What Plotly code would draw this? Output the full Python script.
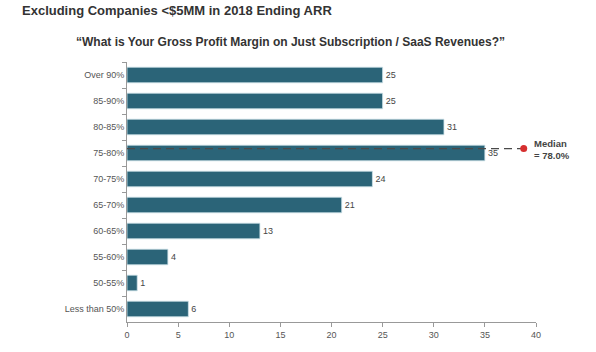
import plotly.graph_objects as go

categories = ["Over 90%", "85-90%", "80-85%", "75-80%", "70-75%", "65-70%",
              "60-65%", "55-60%", "50-55%", "Less than 50%"]
values = [25, 25, 31, 35, 24, 21, 13, 4, 1, 6]
median_label = "Median<br>= 78.0%"
median_pos = 2.83   # position on category axis (78% inside 75-80% band)
median_x_end = 38.8

FONT = "Liberation Sans, Arial"

fig = go.Figure()
fig.add_trace(go.Bar(
    y=categories, x=values, orientation="h", width=0.6,
    marker=dict(color="#2b6478", line=dict(color="#cfe3ea", width=0.8)),
    text=[str(v) for v in values], textposition="outside",
    textfont=dict(family=FONT, size=9, color="#444"),
    cliponaxis=False, hoverinfo="skip",
))

fig.add_trace(go.Scatter(
    x=[0, median_x_end], y=[median_pos, median_pos], yaxis="y2",
    mode="lines", line=dict(color="#4a4a4a", width=1.3, dash="8px,5px"),
    hoverinfo="skip", cliponaxis=False))
fig.add_trace(go.Scatter(
    x=[median_x_end], y=[median_pos], yaxis="y2", mode="markers",
    marker=dict(color="#d62f2f", size=7),
    hoverinfo="skip", cliponaxis=False))

fig.update_layout(
    width=596, height=352,
    margin=dict(l=127, r=60, t=62, b=26),
    plot_bgcolor="white", paper_bgcolor="white",
    showlegend=False,
    xaxis=dict(range=[0, 40], dtick=5, showgrid=False, zeroline=False,
               showline=True, linecolor="#999", linewidth=1,
               ticks="outside", ticklen=4, tickcolor="#999",
               tickfont=dict(family=FONT, size=9, color="#555")),
    yaxis=dict(categoryorder="array", categoryarray=categories,
               range=[9.5, -0.5], showgrid=False, zeroline=False,
               showline=True, linecolor="#999", linewidth=1,
               ticks="outside", ticklen=4, tickcolor="#999",
               tickson="boundaries",
               tickfont=dict(family=FONT, size=9, color="#555")),
    yaxis2=dict(overlaying="y", range=[9.5, -0.5], visible=False,
                showgrid=False, zeroline=False),
)

fig.add_annotation(xref="x", yref="y2", x=median_x_end, y=median_pos,
                   xshift=8, yshift=-1, xanchor="left", yanchor="middle",
                   showarrow=False, align="left",
                   text="<b>" + median_label + "</b>",
                   font=dict(family=FONT, size=9.5, color="#444"))

fig.add_annotation(xref="paper", yref="paper", x=(20 - 127) / 409, y=1 + (62 - 10) / 264,
                   xanchor="left", yanchor="middle", showarrow=False,
                   text="<b>Excluding Companies <$5MM in 2018 Ending ARR</b>",
                   font=dict(family=FONT, size=13, color="#333"))
fig.add_annotation(xref="paper", yref="paper", x=(290 - 127) / 409, y=1 + (62 - 42) / 264,
                   xanchor="center", yanchor="middle", showarrow=False,
                   text="<b>\u201cWhat is Your Gross Profit Margin on Just Subscription / SaaS Revenues?\u201d</b>",
                   font=dict(family=FONT, size=12, color="#333"))

fig.write_html("out.html")
